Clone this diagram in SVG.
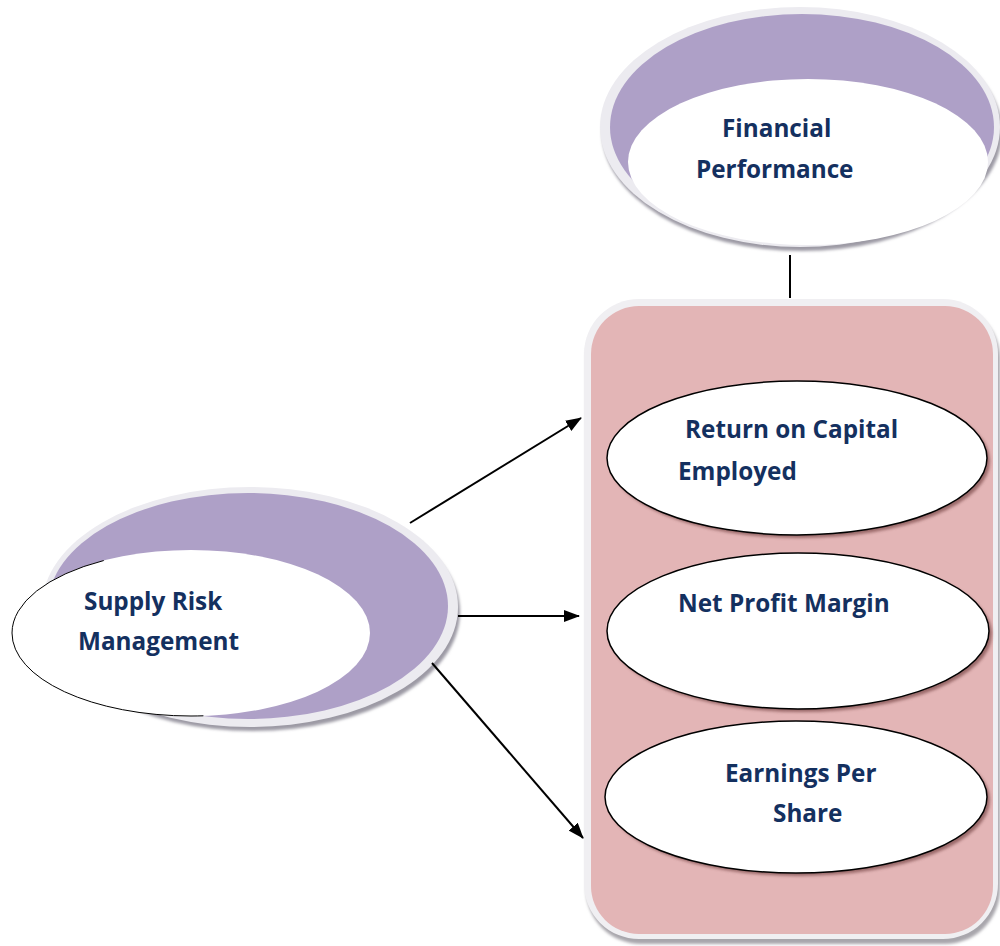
<svg xmlns="http://www.w3.org/2000/svg" width="1000" height="946" viewBox="0 0 1000 946">
  <defs>
    <marker id="arrow" viewBox="0 0 16 12" refX="15" refY="6" markerWidth="16" markerHeight="12" markerUnits="userSpaceOnUse" orient="auto">
      <path d="M0,0 L16,6 L0,12 Z" fill="#000"/>
    </marker>
    <filter id="soft" x="-10%" y="-10%" width="120%" height="120%">
      <feGaussianBlur stdDeviation="1.5"/>
    </filter>
  </defs>
  <style>
    .label { font-family: "Open Sans", Lato, "Liberation Sans", sans-serif; font-weight: bold; font-size: 24.3px; fill: #14305f; }
    .rim { fill: #ecebf0; }
    .rimShadow { fill: #9c9aa4; filter: url(#soft); }
    .purple { fill: #aea0c7; }
    .inner { fill: #ffffff; }
    .metric { fill: #ffffff; stroke: #000; stroke-width: 1.5; }
    .metricShadow { fill: #7a4a4a; opacity: 0.7; filter: url(#soft); }
    .conn { stroke: #000; stroke-width: 2; fill: none; }
  </style>

  <rect width="1000" height="946" fill="#ffffff"/>

  <!-- Financial Performance -->
  <g id="financial-performance">
    <ellipse class="rimShadow" cx="802" cy="132" rx="200" ry="119"/>
    <ellipse class="rim" cx="800" cy="127" rx="200" ry="120"/>
    <ellipse class="purple" cx="802" cy="127" rx="192" ry="113"/>
    <ellipse class="inner" cx="808" cy="162" rx="180" ry="83"/>
    <text class="label" x="722" y="137">Financial</text>
    <text class="label" x="696" y="178">Performance</text>
  </g>

  <!-- Supply Risk Management -->
  <g id="supply-risk-management">
    <ellipse class="rimShadow" cx="253" cy="612" rx="207" ry="119"/>
    <ellipse class="rim" cx="250" cy="607" rx="208" ry="120"/>
    <ellipse class="purple" cx="248" cy="606" rx="200" ry="113"/>
    <ellipse class="inner" cx="191" cy="633" rx="179" ry="83" stroke="#000" stroke-width="1" stroke-dasharray="0 200 350 1000"/>
    <text class="label" x="84" y="610">Supply Risk</text>
    <text class="label" x="78" y="650">Management</text>
  </g>

  <!-- Financial performance measures -->
  <g id="measures-panel">
    <rect x="586" y="304" width="414" height="640" rx="55" fill="#a8a6ac" filter="url(#soft)"/>
    <rect x="584" y="299" width="414" height="640" rx="55" fill="#f0eff2"/>
    <rect x="591" y="306" width="402" height="628" rx="48" fill="#e3b5b6"/>
  </g>

  <g id="return-on-capital-employed">
    <ellipse class="metricShadow" cx="800" cy="461" rx="190" ry="77"/>
    <ellipse class="metric" cx="797" cy="458" rx="190" ry="77"/>
    <text class="label" x="685" y="438">Return on Capital</text>
    <text class="label" x="678" y="480">Employed</text>
  </g>

  <g id="net-profit-margin">
    <ellipse class="metricShadow" cx="801" cy="634" rx="191" ry="78"/>
    <ellipse class="metric" cx="798" cy="631" rx="191" ry="78"/>
    <text class="label" x="678" y="612">Net Profit Margin</text>
  </g>

  <g id="earnings-per-share">
    <ellipse class="metricShadow" cx="799" cy="800" rx="191" ry="76"/>
    <ellipse class="metric" cx="796" cy="797" rx="191" ry="76"/>
    <text class="label" x="725" y="782">Earnings Per</text>
    <text class="label" x="773" y="822">Share</text>
  </g>

  <!-- Connectors -->
  <g id="connectors">
    <line class="conn" x1="790" y1="255" x2="790" y2="298"/>
    <line class="conn" x1="410" y1="523" x2="581" y2="418" marker-end="url(#arrow)"/>
    <line class="conn" x1="458" y1="616" x2="579" y2="616" marker-end="url(#arrow)"/>
    <line class="conn" x1="432" y1="663" x2="583" y2="838" marker-end="url(#arrow)"/>
  </g>
</svg>
